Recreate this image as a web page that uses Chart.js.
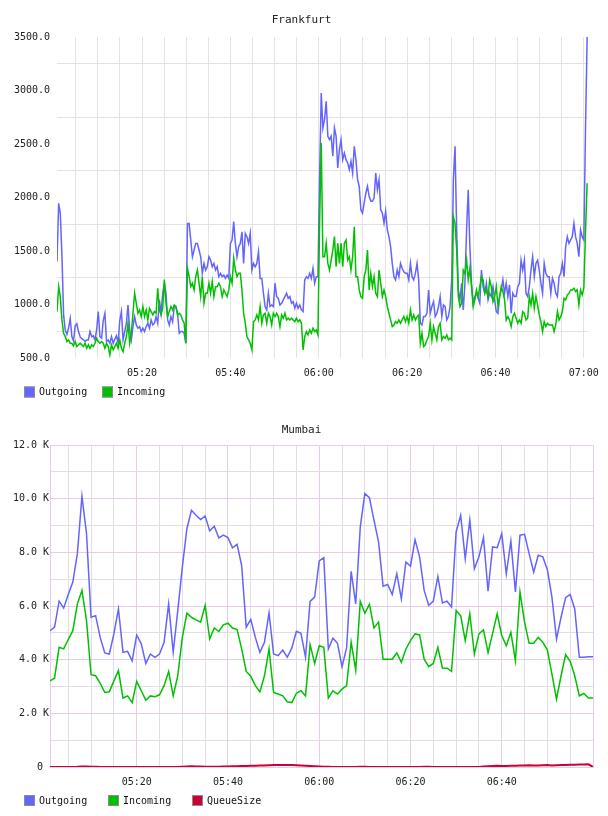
<!DOCTYPE html>
<html><head><meta charset="utf-8">
<script src="https://cdn.jsdelivr.net/npm/chart.js@4.4.1/dist/chart.umd.min.js"></script>
<style>
html,body{margin:0;padding:0;background:#fff;overflow:hidden;width:608px;height:816px}
.box{position:absolute;left:0;width:608px}
</style></head><body>
<div class="box" style="top:0;height:405px"><canvas id="fra"></canvas></div>
<div class="box" style="top:410px;height:406px"><canvas id="mum"></canvas></div>
<script>
// ---------------- Frankfurt data (sampled evenly between first and last time) ----------------
const fraTitle = 'Frankfurt';
const fraFirstTime = '05:00:45';
const fraLastTime = '07:00:45';
const fraOutgoing = [
1400,1946,1850,1450,900,760,720,780,870,700,
660,800,820,747,700,680,670,655,669,669,
747,700,707,669,762,934,700,685,850,918,
654,669,638,700,638,676,707,638,850,934,
669,747,825,996,762,669,794,887,809,778,
794,747,778,747,794,825,778,856,809,825,
887,825,1043,918,1105,1199,1105,856,809,887,
840,981,981,918,731,747,747,731,638,1758,
1758,1600,1446,1509,1571,1571,1509,1446,1291,1384,
1322,1353,1446,1415,1353,1384,1322,1353,1260,1291,
1260,1275,1244,1275,1244,1571,1603,1774,1571,1446,1540,
1571,1680,1384,1665,1634,1571,1665,1322,1384,1353,
1384,1493,1244,1244,1105,981,949,1105,981,996,
981,1199,1074,1058,996,1012,1043,1074,1105,1058,
1074,1012,1027,965,1012,965,996,949,934,1230,
1260,1244,1291,1244,1338,1199,1260,1260,2198,2977,
2650,2728,2899,2572,2541,2572,2385,2650,2572,2276,
2448,2541,2354,2416,2354,2323,2260,2338,2229,2479,
2354,2167,2105,1886,1855,1949,2042,2105,2011,1964,
1964,1995,2229,2073,2167,1886,1855,1762,1871,1700,
1634,1540,1384,1260,1230,1322,1260,1384,1338,1306,
1291,1291,1230,1384,1260,1230,1291,1384,1230,825,
809,887,887,918,1136,918,981,1027,887,918,
979,1074,887,996,981,856,887,981,1230,2167,
2479,1700,1136,1043,1199,949,1199,1700,2073,1540,
1199,1012,1074,1105,1058,1012,1322,1167,1105,1199,
1043,1105,1074,1167,1043,934,918,1074,1136,1230,
1105,1199,1074,1183,918,1105,1074,1074,1167,1199,
1415,1322,1415,1105,1074,1167,1322,1446,1260,1384,
1415,1322,1199,1105,1384,1291,1260,1260,1105,1245,
1199,1105,1074,1260,1291,1384,1260,1540,1634,1571,
1603,1634,1758,1634,1571,1446,1696,1634,1603,2632,
3500];
const fraIncoming = [
933,1167,1074,856,731,700,654,669,638,638,
613,654,607,623,638,623,607,638,591,623,
591,623,607,638,685,654,638,654,638,591,
638,607,529,623,576,607,638,591,669,591,
560,638,700,825,638,731,918,1105,1012,918,
949,887,981,887,949,856,965,934,903,934,
918,1152,949,903,965,1230,1012,887,934,981,
949,996,981,903,918,903,856,825,638,1338,
1260,1167,1199,1136,1260,1322,1199,1074,1260,1012,
1105,1105,1199,1105,1214,1074,1167,1167,1199,1167,
1074,1136,1105,1074,1136,1260,1199,1431,1322,1260,1291,
1291,1136,918,825,700,669,638,576,840,856,
903,856,981,825,903,918,825,918,887,809,
918,887,918,887,794,903,872,918,856,872,
856,872,856,840,872,840,856,825,576,700,
747,716,762,731,778,747,762,716,1762,2510,
1446,1446,1571,1384,1322,1415,1509,1634,1353,1571,
1384,1571,1353,1571,1603,1415,1446,1322,1446,1727,
1260,1260,1136,1074,1058,1260,1322,1509,1136,1291,
1167,1260,1105,1074,1322,1199,1074,1136,1074,981,
918,856,794,809,840,825,856,825,856,887,
840,887,825,949,856,903,856,887,903,638,
731,607,623,669,700,825,669,794,731,669,
793,825,669,700,685,716,669,685,669,1820,
1758,1509,1074,981,1012,1322,1291,1415,1230,1338,
1167,981,1043,1136,1074,1167,1260,1230,1105,1136,
1074,1230,1167,1027,1074,1167,981,1074,1167,1121,
1043,856,887,856,794,887,918,872,825,856,
825,934,918,856,872,1074,996,1105,965,1074,
996,903,840,747,840,794,825,809,809,809,
747,809,934,856,887,934,1058,1043,1090,1105,
1136,1136,1152,1121,1136,996,1136,1090,1152,1680,
2133];
const fraAxisStart = '05:00:45';
const fraAxisEnd = '07:01:00';
const fraYMin = 500, fraYMax = 3500, fraYLabelStep = 500;

// ---------------- Mumbai data (one value per minute) ----------------
const mumTitle = 'Mumbai';
const mumFirstTime = '05:01';
const mumLastTime = '07:00';
const mumOutgoing = [
5080,5210,6180,5920,6430,6890,7950,10090,8700,5580,
5640,4830,4250,4210,4960,5890,4270,4310,3960,4920,
4590,3860,4210,4090,4210,4650,6080,4270,5830,7450,
8880,9570,9380,9220,9350,8800,8970,8540,8640,8550,
8170,8300,7510,5210,5500,4830,4270,4650,5740,4210,
4150,4360,4090,4440,5060,4980,4090,6170,6330,7680,
7800,4400,4800,4610,3740,4440,7290,6080,8950,10190,
10040,9200,8390,6740,6800,6430,7200,6270,7640,7480,
8470,7830,6580,6020,6180,7100,6110,6180,5960,8760,
9380,7760,9200,7390,7830,8550,6550,8200,8170,8700,
7200,8420,6520,8640,8670,7950,7260,7890,7830,7350,
6330,4770,5580,6310,6430,5890,4090,4090,4110,4110];
const mumIncoming = [
3210,3310,4460,4400,4750,5080,6080,6580,5460,3440,
3400,3120,2780,2800,3210,3590,2570,2650,2400,3190,
2840,2490,2650,2620,2690,3030,3560,2650,3400,4830,
5730,5580,5480,5400,6020,4770,5180,5050,5300,5360,
5180,5120,4400,3560,3380,3030,2800,3400,4400,2780,
2720,2650,2430,2400,2750,2840,2650,4560,3860,4520,
4460,2570,2840,2720,2900,3030,4650,3610,6170,5730,
6060,5180,5400,4020,4020,4020,4250,3900,4400,4710,
4960,4920,4020,3740,3860,4460,3690,3680,3560,5830,
5640,4710,5710,4210,4960,5110,4270,4980,5710,4900,
4520,5020,3960,6520,5400,4610,4610,4830,4650,4360,
3460,2530,3400,4190,3940,3400,2650,2740,2570,2570];
const mumQueueSize = [
0,0,0,0,0,0,5,15,20,10,
5,0,0,0,0,0,0,0,0,0,
0,0,0,0,0,0,0,0,0,10,
20,25,20,15,10,5,5,10,15,20,
25,30,35,40,45,50,55,60,65,70,
70,75,70,70,65,60,50,40,30,20,
10,5,0,0,0,0,0,0,5,5,
0,0,0,0,0,0,0,0,0,0,
0,0,5,5,0,0,0,0,0,0,
0,0,0,0,0,20,30,40,45,40,
40,45,50,60,60,65,60,60,65,70,
60,65,70,75,80,85,90,95,100,0];
const mumYMin = 0, mumYMax = 12000, mumYLabelStep = 2000;

const seriesNames = ['Outgoing', 'Incoming', 'QueueSize'];
const colOut = '#6464ff', colIn = '#00c000', colQueue = '#cc0033';

// ---------------- helpers ----------------
const FONT = "'DejaVu Sans Mono', monospace";
Chart.defaults.font.family = FONT;
Chart.defaults.font.size = 10;
Chart.defaults.color = '#222';
Chart.defaults.animation = false;

function toMin(s){ const p = s.split(':').map(Number); return p[0]*60 + p[1] + (p[2]||0)/60; }
function hhmm(m){ const h = Math.floor(m/60), mm = Math.round(m - h*60); return String(h).padStart(2,'0') + ':' + String(mm).padStart(2,'0'); }
function pairs(vals, first, last){
  const a = toMin(first), b = toMin(last), st = (b - a)/(vals.length - 1);
  return vals.map((v,i) => ({x: a + i*st, y: v}));
}
function rangeTicks(a, b, step){ const t = []; for (let v = a; v <= b + 1e-9; v += step) t.push({value: v}); return t; }

// legend drawn at fixed spots below each chart (box + label per dataset)
const fixedLegend = {
  id: 'fixedLegend',
  afterDraw(chart, args, opts){
    const ctx = chart.ctx;
    ctx.save();
    ctx.font = '10px ' + FONT;
    ctx.textBaseline = 'middle';
    ctx.textAlign = 'left';
    chart.data.datasets.forEach((d, i) => {
      const x = opts.xs[i], y = opts.y;
      ctx.fillStyle = d.borderColor;
      ctx.fillRect(x, y, 11, 11);
      ctx.strokeStyle = '#8c8c8c';
      ctx.lineWidth = 1;
      ctx.strokeRect(x + 0.5, y + 0.5, 10, 10);
      ctx.fillStyle = '#111';
      ctx.fillText(d.label, x + 15, y + 6);
    });
    ctx.restore();
  }
};

// ---------------- Frankfurt chart ----------------
const FGRID = '#e3e3e3';
new Chart(document.getElementById('fra'), {
  type: 'line',
  plugins: [fixedLegend],
  data: { datasets: [
    { label: seriesNames[0], data: pairs(fraOutgoing, fraFirstTime, fraLastTime), borderColor: colOut, backgroundColor: colOut, borderWidth: 1.5, pointRadius: 0, tension: 0, order: 2 },
    { label: seriesNames[1], data: pairs(fraIncoming, fraFirstTime, fraLastTime), borderColor: colIn, backgroundColor: colIn, borderWidth: 1.5, pointRadius: 0, tension: 0, order: 1 }
  ]},
  options: {
    responsive: true, maintainAspectRatio: false,
    layout: { padding: { left: 10, right: 15, top: 0, bottom: 17 } },
    plugins: {
      title: { display: true, text: fraTitle, font: {family: FONT, size: 11, weight: 'normal'}, color: '#222', padding: {top: 13.4, bottom: 10.4} },
      legend: { display: false },
      fixedLegend: { xs: [24, 102], y: 386.5 },
      tooltip: { enabled: false }
    },
    scales: {
      x: {
        type: 'linear', min: toMin(fraAxisStart), max: toMin(fraAxisEnd),
        afterBuildTicks(s){ s.ticks = rangeTicks(305, 420, 5); },
        afterFit(s){ s.height = 30; },
        ticks: { autoSkip: false, maxRotation: 0, padding: 9, callback: v => (Math.round(v) % 20 === 0 ? hhmm(v) : '') },
        grid: { color: FGRID, drawTicks: false },
        border: { display: false }
      },
      y: {
        min: fraYMin, max: fraYMax,
        afterBuildTicks(s){ s.ticks = rangeTicks(fraYMin, fraYMax, fraYLabelStep/2); },
        afterFit(s){ s.width = 47; },
        ticks: { autoSkip: false, padding: 7, callback: v => (v % fraYLabelStep === 0 ? v.toFixed(1) : '') },
        grid: { color: c => (c.tick && c.tick.value % fraYLabelStep === 0 ? 'rgba(0,0,0,0)' : FGRID), drawTicks: false },
        border: { display: false }
      }
    }
  }
});

// ---------------- Mumbai chart ----------------
const MMAJOR = '#e6cce6', MMINOR = '#e2dde2';
new Chart(document.getElementById('mum'), {
  type: 'line',
  plugins: [fixedLegend],
  data: { datasets: [
    { label: seriesNames[0], data: pairs(mumOutgoing, mumFirstTime, mumLastTime), borderColor: colOut, backgroundColor: colOut, borderWidth: 1.5, pointRadius: 0, tension: 0, order: 3 },
    { label: seriesNames[1], data: pairs(mumIncoming, mumFirstTime, mumLastTime), borderColor: colIn, backgroundColor: colIn, borderWidth: 1.5, pointRadius: 0, tension: 0, order: 2 },
    { label: seriesNames[2], data: pairs(mumQueueSize, mumFirstTime, mumLastTime), borderColor: colQueue, backgroundColor: colQueue, borderWidth: 2, pointRadius: 0, tension: 0, order: 1 }
  ]},
  options: {
    responsive: true, maintainAspectRatio: false,
    layout: { padding: { left: 10, right: 15, top: 0, bottom: 19 } },
    plugins: {
      title: { display: true, text: mumTitle, font: {family: FONT, size: 11, weight: 'normal'}, color: '#222', padding: {top: 13.4, bottom: 8.4} },
      legend: { display: false },
      fixedLegend: { xs: [24, 108, 192], y: 385 },
      tooltip: { enabled: false }
    },
    scales: {
      x: {
        type: 'linear', min: toMin(mumFirstTime), max: toMin(mumLastTime),
        afterBuildTicks(s){ s.ticks = rangeTicks(305, 420, 5); },
        afterFit(s){ s.height = 30; },
        ticks: { autoSkip: false, maxRotation: 0, padding: 9, callback: v => (Math.round(v) % 20 === 0 && v < 420 ? hhmm(v) : '') },
        grid: { color: c => (c.tick && (Math.round(c.tick.value) % 20 === 0) ? MMAJOR : MMINOR), drawTicks: false },
        border: { display: true, color: MMAJOR }
      },
      y: {
        min: mumYMin, max: mumYMax,
        afterBuildTicks(s){ s.ticks = rangeTicks(mumYMin, mumYMax, mumYLabelStep/2); },
        afterFit(s){ s.width = 40; },
        ticks: { autoSkip: false, padding: 1, callback: v => (v % mumYLabelStep === 0 ? (v === 0 ? '0 ' : (v/1000).toFixed(1) + ' K') : '') },
        grid: { color: c => (c.tick && c.tick.value % mumYLabelStep === 0 ? MMAJOR : MMINOR), drawTicks: false },
        border: { display: true, color: MMAJOR }
      }
    }
  }
});
</script>
</body></html>
